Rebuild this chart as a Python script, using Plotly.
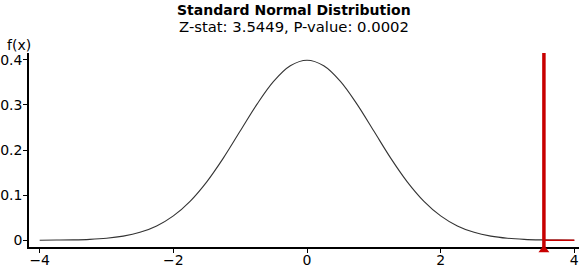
import plotly.graph_objects as go

# Curve values (standard normal density)
x_vals = [-4.0, -3.75, -3.5, -3.25, -3.0, -2.75, -2.5, -2.25, -2.0, -1.75, -1.5, -1.25, -1.0,
          -0.75, -0.5, -0.25, 0.0, 0.25, 0.5, 0.75, 1.0, 1.25, 1.5, 1.75, 2.0, 2.25, 2.5,
          2.75, 3.0, 3.25, 3.5, 3.75, 4.0]
fx_vals = [0.0001, 0.0004, 0.0009, 0.0020, 0.0044, 0.0091, 0.0175, 0.0317, 0.0540, 0.0863,
           0.1295, 0.1826, 0.2420, 0.3011, 0.3521, 0.3867, 0.3989, 0.3867, 0.3521, 0.3011,
           0.2420, 0.1826, 0.1295, 0.0863, 0.0540, 0.0317, 0.0175, 0.0091, 0.0044, 0.0020,
           0.0009, 0.0004, 0.0001]
z_stat = 3.5449
p_value = 0.0002
tail_x = [3.5449, 4.0]
tail_y = [0.0, 0.0]
x_ticks = [-4, -2, 0, 2, 4]
y_ticks = [0, 0.1, 0.2, 0.3, 0.4]
y_tick_text = ["0", "0.1", "0.2", "0.3", "0.4"]

RED = "#c80000"
FONT = "DejaVu Sans"

W, H = 587, 271
L, R, T, B = 29, 8, 53, 24
ph = H - T - B
Y_RANGE = [-0.015, 0.415]
units_per_px = (Y_RANGE[1] - Y_RANGE[0]) / ph

# helper strip axis (bottom margin) using the same vertical scale as the main y axis
strip_frac = 0.1
strip_px = strip_frac * H
strip_lo = Y_RANGE[0] - B * units_per_px
strip_range = [strip_lo, strip_lo + strip_px * units_per_px]

fig = go.Figure()
fig.add_trace(go.Scatter(x=x_vals, y=fx_vals, mode="lines",
                         line=dict(color="#333333", width=1.1, shape="spline"),
                         hoverinfo="skip"))
fig.add_trace(go.Scatter(x=tail_x, y=tail_y, mode="lines",
                         line=dict(color=RED, width=1.5), hoverinfo="skip"))
fig.add_trace(go.Scatter(x=[z_stat, z_stat], y=[-0.02, 0.415], mode="lines",
                         line=dict(color=RED, width=3.5), cliponaxis=False,
                         hoverinfo="skip"))
fig.add_trace(go.Scatter(x=[z_stat], y=[-0.0213], mode="markers", yaxis="y2",
                         marker=dict(symbol="triangle-up", size=9.5, color=RED),
                         cliponaxis=False, hoverinfo="skip"))

fig.update_layout(
    width=W, height=H,
    margin=dict(l=0, r=0, t=0, b=0),
    paper_bgcolor="white", plot_bgcolor="rgba(0,0,0,0)",
    showlegend=False,
    font=dict(family=FONT, size=14, color="black"),
    xaxis=dict(domain=[L / W, (W - R) / W], range=[-4.16, 4.07], tickvals=x_ticks,
               showgrid=False, zeroline=False, anchor="y",
               showline=True, linecolor="black", linewidth=1.5, ticks="outside",
               ticklen=4, tickcolor="black", tickfont=dict(size=14, family=FONT),
               ticklabelstandoff=-5, automargin=False, fixedrange=True),
    yaxis=dict(domain=[B / H, (H - T) / H], range=Y_RANGE, tickvals=y_ticks,
               ticktext=y_tick_text, anchor="x",
               showgrid=False, zeroline=False, showline=True, linecolor="black",
               linewidth=1.5, ticks="outside", ticklen=4, tickcolor="black",
               tickfont=dict(size=14, family=FONT), ticklabelstandoff=-2,
               automargin=False, fixedrange=True),
    yaxis2=dict(visible=False, anchor="x", domain=[0, strip_frac], range=strip_range,
                fixedrange=True, showgrid=False, zeroline=False),
    annotations=[
        dict(text="<b>Standard Normal Distribution</b>", x=293.5 / W, y=1 - 10 / H,
             xref="paper", yref="paper", showarrow=False,
             xanchor="center", yanchor="middle", font=dict(size=14, family=FONT)),
        dict(text=f"Z-stat: {z_stat:.4f}, P-value: {p_value:.4f}", x=293.5 / W,
             y=1 - 26.5 / H, xref="paper", yref="paper", showarrow=False,
             xanchor="center", yanchor="middle", font=dict(size=14.8, family=FONT)),
        dict(text="f(x)", x=19 / W, y=1 - 45 / H, xref="paper",
             yref="paper", showarrow=False, xanchor="center", yanchor="middle",
             font=dict(size=14, family=FONT)),
    ],
)

fig.write_html("out.html")
